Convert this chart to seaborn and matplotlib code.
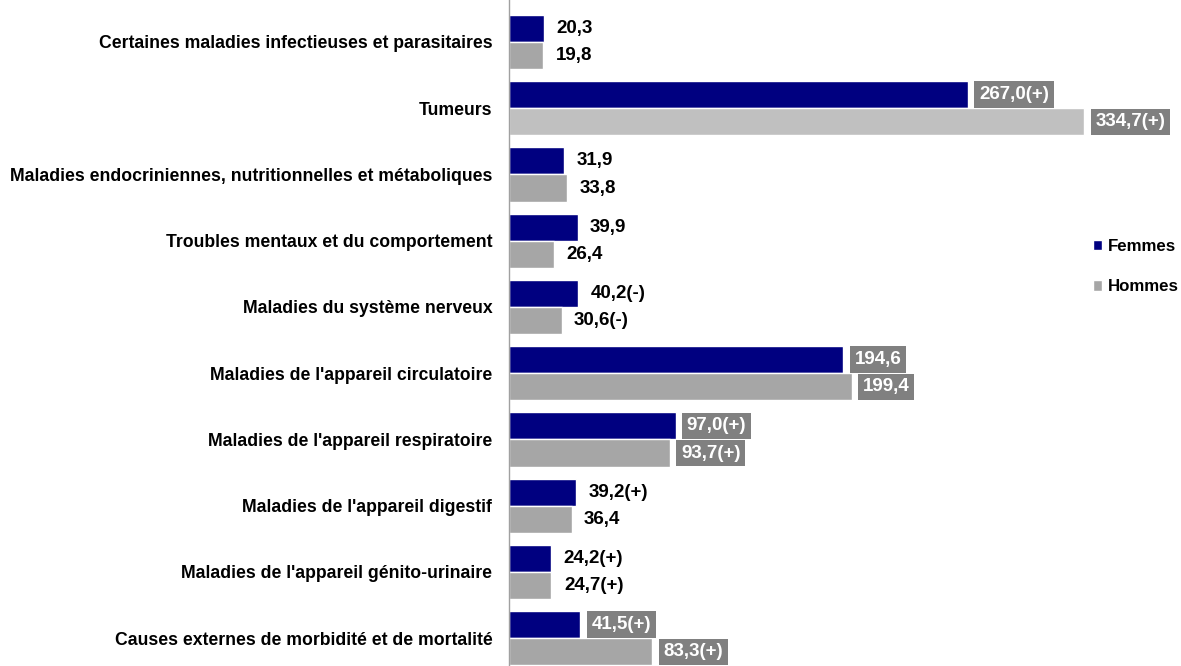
import matplotlib
matplotlib.use("Agg")
import matplotlib.pyplot as plt
import seaborn as sns
import pandas as pd

categories = [
    "Certaines maladies infectieuses et parasitaires",
    "Tumeurs",
    "Maladies endocriniennes, nutritionnelles et métaboliques",
    "Troubles mentaux et du comportement",
    "Maladies du système nerveux",
    "Maladies de l'appareil circulatoire",
    "Maladies de l'appareil respiratoire",
    "Maladies de l'appareil digestif",
    "Maladies de l'appareil génito-urinaire",
    "Causes externes de morbidité et de mortalité",
]
femmes = [20.3, 267.0, 31.9, 39.9, 40.2, 194.6, 97.0, 39.2, 24.2, 41.5]
hommes = [19.8, 334.7, 33.8, 26.4, 30.6, 199.4, 93.7, 36.4, 24.7, 83.3]
femmes_sig = ["", "(+)", "", "", "(-)", "", "(+)", "(+)", "(+)", "(+)"]
hommes_sig = ["", "(+)", "", "", "(-)", "", "(+)", "", "(+)", "(+)"]

df = pd.DataFrame({
    "cause": categories * 2,
    "taux": femmes + hommes,
    "sexe": ["Femmes"] * len(categories) + ["Hommes"] * len(categories),
})

sns.set_style("white")
plt.rcParams["font.family"] = ["Liberation Sans", "DejaVu Sans"]
plt.rcParams["font.weight"] = "bold"
plt.rcParams["text.color"] = "black"
plt.rcParams["ytick.color"] = "black"

fig = plt.figure(figsize=(11.81, 6.66), dpi=100)
ax = fig.add_axes([509 / 1181, 0, 1 - 509 / 1181, 1])

sns.barplot(data=df, y="cause", x="taux", hue="sexe", orient="h",
            palette={"Femmes": "#000080", "Hommes": "#A6A6A6"},
            width=0.82, saturation=1, ax=ax, legend=True)

# Tumeurs / Hommes en gris plus clair
ax.containers[1][1].set_facecolor("#C0C0C0")

for cont, vals, sigs in zip(ax.containers, [femmes, hommes], [femmes_sig, hommes_sig]):
    for i, (bar, v, s) in enumerate(zip(cont, vals, sigs)):
        label = f"{v:.1f}".replace(".", ",") + s
        boxed = max(femmes[i], hommes[i]) > 50
        yc = bar.get_y() + bar.get_height() / 2
        if boxed:
            ax.annotate(label, xy=(bar.get_width(), yc), xytext=(8, 0),
                        textcoords="offset points", va="center", ha="left",
                        fontsize=13.5, fontweight="bold", color="white",
                        bbox=dict(boxstyle="square,pad=0.25", fc="#808080", ec="none"))
        else:
            ax.annotate(label, xy=(bar.get_width(), yc), xytext=(9, 0),
                        textcoords="offset points", va="center", ha="left",
                        fontsize=13.5, fontweight="bold", color="black")

ax.set_xlim(0, 391)
ax.set_ylim(9.42, -0.634)
ax.set_xlabel("")
ax.set_ylabel("")
ax.set_xticks([])
ax.tick_params(axis="y", length=0, pad=12, labelsize=12.7, labelcolor="black")
for lab in ax.get_yticklabels():
    lab.set_fontweight("bold")
for sp in ["top", "right", "bottom"]:
    ax.spines[sp].set_visible(False)
ax.spines["left"].set_color("#A0A0A0")
ax.spines["left"].set_linewidth(1)

leg = ax.legend(loc="upper left", bbox_to_anchor=(1093 / 1181, 1 - 239 / 666),
                bbox_transform=fig.transFigure, frameon=False,
                borderpad=0, borderaxespad=0,
                handlelength=0.55, handleheight=0.55, handletextpad=0.3,
                labelspacing=1.5, labelcolor="black",
                prop={"size": 12.2, "weight": "bold"})

fig.savefig("out.png", dpi=100)
